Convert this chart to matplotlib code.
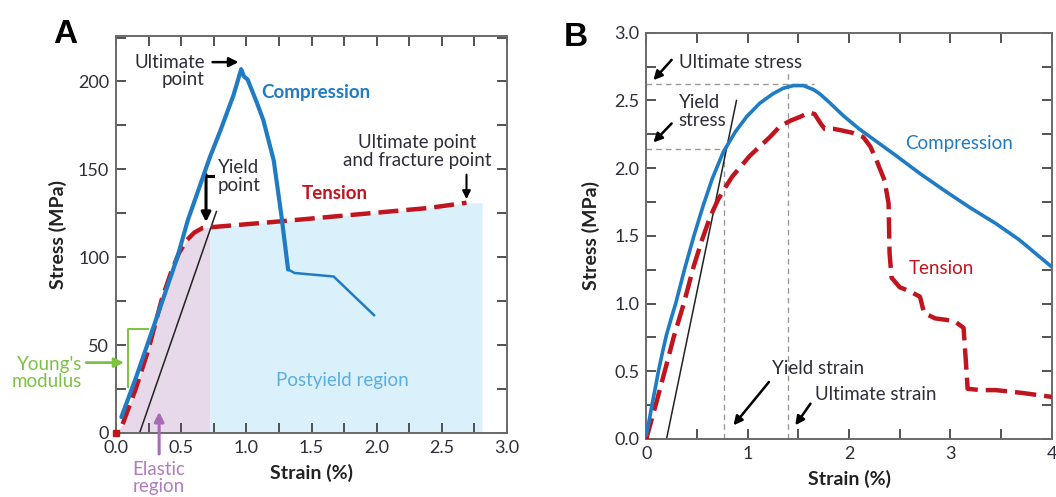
import matplotlib
matplotlib.use("Agg")
import matplotlib.pyplot as plt
from matplotlib.ticker import MultipleLocator

plt.rcParams["font.family"] = ["Lato", "DejaVu Sans"]

# ── Panel A data ──────────────────────────────────────────────────────────────
a_comp_x = [0.04, 0.15, 0.29, 0.47, 0.55, 0.64, 0.72, 0.80, 0.90, 0.96, 0.98, 1.01, 1.08, 1.13, 1.21, 1.27, 1.32]
a_comp_y = [9, 31, 61, 100, 121, 140, 157, 172, 192, 207, 203, 201, 188, 178, 155, 123, 93]
a_tail_x = [1.32, 1.37, 1.67, 1.98]
a_tail_y = [93, 91, 89, 67]
a_ten_x = [0.0, 0.05, 0.15, 0.25, 0.35, 0.42, 0.48, 0.54, 0.60, 0.66, 0.72, 1.20, 1.80, 2.40, 2.69]
a_ten_y = [0, 5, 25, 48, 76, 91, 102, 109.5, 114, 116.5, 117, 120, 124, 128, 131]
a_yield_split = 0.72
a_post_end = 2.81
a_offset_x = [0.18, 0.77]
a_offset_y = [0, 126]
a_xticks = [0.0, 0.5, 1.0, 1.5, 2.0, 2.5, 3.0]
a_yticks = [0, 50, 100, 150, 200]

# ── Panel B data ──────────────────────────────────────────────────────────────
b_comp_x = [0.0, 0.03, 0.056, 0.09, 0.12, 0.16, 0.20, 0.25, 0.29, 0.38, 0.47, 0.56, 0.65, 0.76, 0.88, 0.99,
            1.12, 1.25, 1.35, 1.45, 1.55, 1.65, 1.71, 1.80, 1.94, 2.10, 2.21, 2.45, 2.70, 2.95, 3.19, 3.45,
            3.68, 4.00]
b_comp_y = [0.03, 0.14, 0.25, 0.38, 0.50, 0.64, 0.77, 0.90, 1.00, 1.26, 1.50, 1.72, 1.92, 2.12, 2.27, 2.38,
            2.48, 2.55, 2.59, 2.61, 2.61, 2.58, 2.55, 2.49, 2.39, 2.29, 2.23, 2.10, 1.96, 1.83, 1.71, 1.59,
            1.47, 1.27]
b_ten_x = [0.0, 0.10, 0.20, 0.27, 0.37, 0.47, 0.55, 0.63, 0.71, 0.79, 0.85, 0.93, 1.02, 1.12, 1.22, 1.32, 1.42,
           1.52, 1.60, 1.66, 1.72, 1.76, 1.85, 1.92, 2.04, 2.14, 2.21, 2.27, 2.35, 2.39, 2.40, 2.42, 2.50,
           2.60, 2.70, 2.74, 2.85, 2.95, 3.04, 3.13, 3.15, 3.17, 3.30, 3.45, 3.70, 4.00]
b_ten_y = [0.0, 0.27, 0.55, 0.75, 1.00, 1.28, 1.47, 1.64, 1.77, 1.87, 1.94, 2.01, 2.09, 2.16, 2.23, 2.31, 2.35,
           2.38, 2.41, 2.40, 2.33, 2.29, 2.29, 2.28, 2.26, 2.23, 2.16, 2.06, 1.91, 1.74, 1.37, 1.19, 1.12,
           1.09, 1.05, 0.93, 0.89, 0.88, 0.87, 0.82, 0.60, 0.37, 0.36, 0.36, 0.34, 0.31]
b_offset_x = [0.20, 0.89]
b_offset_y = [0.0, 2.50]
b_ult_stress, b_ult_strain = 2.62, 1.40
b_yld_stress, b_yld_strain = 2.14, 0.77
b_xticks = [0, 1, 2, 3, 4]
b_yticks = [0.0, 0.5, 1.0, 1.5, 2.0, 2.5, 3.0]

BLUE = "#1f7cc4"
RED = "#c0141e"
TXT = "#2e2e3a"
GREEN = "#7dc242"
PURPLE = "#b07cc0"
LBLUE = "#5aaee0"
FRAME = "#6a6a6a"
FS = 13.5

fig = plt.figure(figsize=(10.56, 4.97), dpi=100)
axA = fig.add_axes([0.110, 0.129, 0.370, 0.799])
axB = fig.add_axes([0.612, 0.117, 0.384, 0.817])


def style_axes(ax, xmaj, xmin, ymaj, ymin):
    for sp in ax.spines.values():
        sp.set_color(FRAME)
        sp.set_linewidth(1.4)
    ax.xaxis.set_major_locator(MultipleLocator(xmaj))
    ax.xaxis.set_minor_locator(MultipleLocator(xmin))
    ax.yaxis.set_major_locator(MultipleLocator(ymaj))
    ax.yaxis.set_minor_locator(MultipleLocator(ymin))
    ax.tick_params(which="both", direction="in", top=True, right=True,
                   color="#444444", width=1.3, labelcolor=TXT, labelsize=13)
    ax.tick_params(which="major", length=7, pad=5)
    ax.tick_params(which="minor", length=7)


def arrow(ax, xy, xytext, color="black", lw=1.8, ms=13):
    ax.annotate("", xy=xy, xytext=xytext, annotation_clip=False,
                arrowprops=dict(arrowstyle="-|>", color=color, lw=lw, mutation_scale=ms,
                                shrinkA=0, shrinkB=0))


# ── Panel A ───────────────────────────────────────────────────────────────────
style_axes(axA, 0.5, 0.25, 50, 25)
axA.set_xlim(0, 3.0)
axA.set_ylim(0, 226)

el_x = [x for x in a_ten_x if x <= a_yield_split]
el_y = a_ten_y[:len(el_x)]
axA.fill_between(el_x, 0, el_y, color="#e8d9ea", lw=0, zorder=0)
post_x = a_ten_x[len(el_x) - 1:] + [a_post_end]
post_y = a_ten_y[len(el_x) - 1:] + [a_ten_y[-1]]
axA.fill_between(post_x, 0, post_y, color="#daf0fb", lw=0, zorder=0)

axA.plot(a_offset_x, a_offset_y, color="#222222", lw=1.1, zorder=2)
axA.plot(a_ten_x[1:], a_ten_y[1:], color=RED, lw=3.2, dashes=(4.5, 1.8), zorder=3)
axA.plot(a_ten_x[0], a_ten_y[0], "s", color=RED, ms=5, clip_on=False, zorder=3)
axA.plot(a_comp_x, a_comp_y, color=BLUE, lw=3.0, zorder=4, solid_capstyle="round",
         solid_joinstyle="round")
axA.plot(a_tail_x, a_tail_y, color=BLUE, lw=1.8, zorder=4)

# Young's modulus bracket
axA.plot([0.09, 0.09, 0.245], [26, 59, 59], color=GREEN, lw=1.4, zorder=1)
arrow(axA, (0.06, 40), (-0.23, 40), color=GREEN, lw=2, ms=14)
axA.text(-0.26, 34, "Young's\nmodulus", color=GREEN, fontsize=FS, ha="right", va="center",
         linespacing=1.05, clip_on=False)

# Elastic region
arrow(axA, (0.33, 12), (0.33, -12), color="#a86bb5", lw=2.2, ms=14)
axA.text(0.33, -16, "Elastic\nregion", color=PURPLE, fontsize=FS, ha="center", va="top",
         linespacing=1.0, clip_on=False)

axA.text(1.74, 30, "Postyield region", color=LBLUE, fontsize=FS, ha="center", va="center")
axA.text(1.53, 194, "Compression", color=BLUE, fontsize=FS, fontweight="bold", ha="center", va="center")
axA.text(1.68, 136, "Tension", color=RED, fontsize=FS, fontweight="bold", ha="center", va="center")

axA.text(0.68, 206, "Ultimate\npoint", color=TXT, fontsize=FS, ha="right", va="center", linespacing=1.05)
arrow(axA, (0.94, 211), (0.74, 211), lw=1.8, ms=14)

axA.text(0.78, 146, "Yield\npoint", color=TXT, fontsize=FS, ha="left", va="center", linespacing=1.05)
axA.plot([0.69, 0.74], [146, 146], color="black", lw=2.2)
arrow(axA, (0.69, 120), (0.69, 147), lw=2.2, ms=14)

axA.text(2.31, 160, "Ultimate point\nand fracture point", color=TXT, fontsize=FS, ha="center",
         va="center", linespacing=1.05)
arrow(axA, (2.69, 133), (2.69, 147), lw=1.5, ms=12)

axA.set_xlabel("Strain (%)", fontsize=14, fontweight="bold", color="#222222", labelpad=6)
axA.set_ylabel("Stress (MPa)", fontsize=14, fontweight="bold", color="#222222", labelpad=8)
axA.set_xticks(a_xticks)
axA.set_xticklabels([f"{v:.1f}" for v in a_xticks])
axA.set_yticks(a_yticks)

# ── Panel B ───────────────────────────────────────────────────────────────────
style_axes(axB, 1, 0.5, 0.5, 0.25)
axB.set_xlim(0, 4)
axB.set_ylim(0, 3.0)

gray_dash = dict(color="#999999", lw=1.0, dashes=(4, 3), zorder=1)
axB.plot([0, 1.65], [b_ult_stress, b_ult_stress], **gray_dash)
axB.plot([0, b_yld_strain], [b_yld_stress, b_yld_stress], **gray_dash)
axB.plot([b_yld_strain, b_yld_strain], [0, b_yld_stress], **gray_dash)
axB.plot([b_ult_strain, b_ult_strain], [0, 2.70], **gray_dash)

axB.plot(b_offset_x, b_offset_y, color="#222222", lw=1.1, zorder=2)
axB.plot(b_ten_x, b_ten_y, color=RED, lw=3.2, dashes=(4.8, 1.8), zorder=3)
axB.plot(b_comp_x, b_comp_y, color=BLUE, lw=2.6, zorder=4, solid_joinstyle="round")

axB.text(3.09, 2.18, "Compression", color=BLUE, fontsize=FS, ha="center", va="center")
axB.text(2.91, 1.26, "Tension", color=RED, fontsize=FS, ha="center", va="center")

axB.text(0.32, 2.78, "Ultimate stress", color=TXT, fontsize=FS, ha="left", va="center")
arrow(axB, (0.07, 2.65), (0.25, 2.80))
axB.text(0.32, 2.42, "Yield\nstress", color=TXT, fontsize=FS, ha="left", va="center", linespacing=1.05)
arrow(axB, (0.07, 2.19), (0.25, 2.33))
axB.text(1.24, 0.52, "Yield strain", color=TXT, fontsize=FS, ha="left", va="center")
arrow(axB, (0.86, 0.10), (1.21, 0.42))
axB.text(1.66, 0.33, "Ultimate strain", color=TXT, fontsize=FS, ha="left", va="center")
arrow(axB, (1.47, 0.10), (1.62, 0.26))

axB.set_xlabel("Strain (%)", fontsize=14, fontweight="bold", color="#222222", labelpad=6)
axB.set_ylabel("Stress (MPa)", fontsize=14, fontweight="bold", color="#222222", labelpad=10)
axB.set_xticks(b_xticks)
axB.set_yticks(b_yticks)
axB.set_yticklabels([f"{v:.1f}" for v in b_yticks])

fig.text(0.062, 0.93, "A", fontsize=24, fontweight="bold", family="Liberation Sans", ha="center", va="center")
fig.text(0.545, 0.925, "B", fontsize=24, fontweight="bold", family="Liberation Sans", ha="center", va="center")

fig.savefig("out.png", dpi=100)
